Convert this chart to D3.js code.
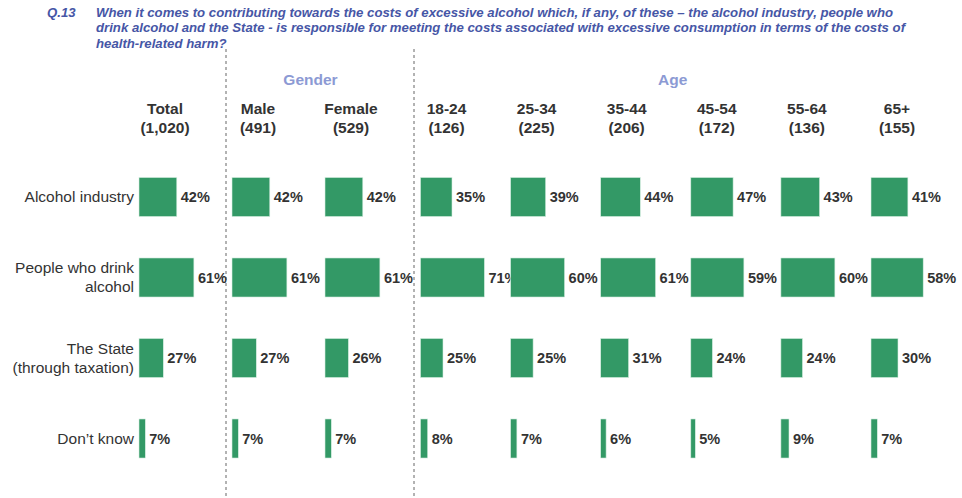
<!DOCTYPE html>
<html>
<head>
<meta charset="utf-8">
<script src="https://cdn.jsdelivr.net/npm/d3@7"></script>
<style>
  body { margin: 0; background: #fff; }
  svg text { font-family: "Liberation Sans", Arial, sans-serif; }
</style>
</head>
<body>
<div id="chart"></div>
<script>
// question text
const titleLines = [
  'When it comes to contributing towards the costs of excessive alcohol which, if any, of these \u2013 the alcohol industry, people who',
  'drink alcohol and the State - is responsible for meeting the costs associated with excessive consumption in terms of the costs of',
  'health-related harm?'
];

// columns
const genderCols = ['Total', 'Male', 'Female'];
const ageCols = ['18-24', '25-34', '35-44', '45-54', '55-64', '65+'];
const columns = genderCols.concat(ageCols);
const bases = ['(1,020)', '(491)', '(529)', '(126)', '(225)', '(206)', '(172)', '(136)', '(155)'];

// rows
const rows = ['Alcohol industry', 'People who drink alcohol', 'The State (through taxation)', 'Don\u2019t know'];
const rowLabels = [['Alcohol industry'], ['People who drink', 'alcohol'], ['The State', '(through taxation)'], ['Don\u2019t know']];

// values (%) per row, in column order
const alcoholIndustry = [42, 42, 42, 35, 39, 44, 47, 43, 41];
const peopleWhoDrink = [61, 61, 61, 71, 60, 61, 59, 60, 58];
const theState = [27, 27, 26, 25, 25, 31, 24, 24, 30];
const dontKnow = [7, 7, 7, 8, 7, 6, 5, 9, 7];
const values = [alcoholIndustry, peopleWhoDrink, theState, dontKnow];

const width = 962, height = 498,
  barColor = '#339966',
  textColor = '#333333',
  titleColor = '#4656a6',
  groupColor = '#8c9ad4';

const svg = d3.select('#chart').append('svg')
  .attr('width', width)
  .attr('height', height);

// scales
const xGender = d3.scalePoint().domain(genderCols).range([139, 325]);
const xAge = d3.scalePoint().domain(ageCols).range([420.5, 871]);
const colX = c => genderCols.includes(c) ? xGender(c) : xAge(c);
const len = d3.scaleLinear().domain([0, 100]).range([0, 90]);
const y = d3.scaleBand().domain(rows).range([156.75, 478.75])
  .paddingInner(0.515).paddingOuter(0.2575);

// title
const title = svg.append('g').attr('class', 'title')
  .style('font-size', '13.2px').style('font-weight', 'bold')
  .style('font-style', 'italic').attr('fill', titleColor);
title.append('text').attr('x', 47).attr('y', 17).text('Q.13');
title.selectAll('text.line').data(titleLines).enter().append('text')
  .attr('class', 'line')
  .attr('x', 96)
  .attr('y', (d, i) => 17 + i * 15.3)
  .text(d => d);

// dashed separators
[226, 414].forEach(x => {
  svg.append('line')
    .attr('x1', x).attr('x2', x)
    .attr('y1', 49).attr('y2', height)
    .attr('stroke', '#666').attr('stroke-width', 1)
    .attr('stroke-dasharray', '3,3');
});

// group headers
svg.append('text')
  .attr('x', (xGender('Male') + xGender('Female')) / 2 + 32)
  .attr('y', 85)
  .attr('text-anchor', 'middle')
  .attr('fill', groupColor)
  .style('font-size', '15.5px').style('font-weight', 'bold')
  .text('Gender');
svg.append('text')
  .attr('x', (xAge(ageCols[0]) + xAge(ageCols[ageCols.length - 1])) / 2 + 27)
  .attr('y', 85)
  .attr('text-anchor', 'middle')
  .attr('fill', groupColor)
  .style('font-size', '15.5px').style('font-weight', 'bold')
  .text('Age');

// column headers
const head = svg.append('g').attr('class', 'col-heads')
  .attr('fill', textColor)
  .style('font-size', '15.5px').style('font-weight', 'bold')
  .attr('text-anchor', 'middle');
columns.forEach((c, i) => {
  const t = head.append('text').attr('x', colX(c) + 26);
  t.append('tspan').attr('x', colX(c) + 26).attr('y', 114).text(c);
  t.append('tspan').attr('x', colX(c) + 26).attr('y', 133).text(bases[i]);
});

// row labels
const lab = svg.append('g').attr('class', 'row-labels')
  .attr('fill', textColor)
  .style('font-size', '15.5px')
  .attr('text-anchor', 'end');
rows.forEach((r, i) => {
  const cy = y(r) + y.bandwidth() / 2,
    lines = rowLabels[i],
    lh = 19,
    t = lab.append('text');
  lines.forEach((l, j) => {
    t.append('tspan')
      .attr('x', 134)
      .attr('y', cy + (j - (lines.length - 1) / 2) * lh)
      .attr('dy', '0.35em')
      .text(l);
  });
});

// value labels first, bars on top (neighbouring bars clip long labels)
rows.forEach((r, ri) => {
  const g = svg.append('g').attr('class', 'row row-' + ri);
  g.selectAll('text')
    .data(values[ri])
    .enter()
    .append('text')
      .attr('x', (d, i) => colX(columns[i]) + len(d) + 4)
      .attr('y', y(r) + y.bandwidth() / 2)
      .attr('dy', '0.35em')
      .attr('fill', textColor)
      .style('font-size', '14.5px').style('font-weight', 'bold')
      .text(d => d + '%');
  g.selectAll('rect')
    .data(values[ri])
    .enter()
    .append('rect')
      .attr('x', (d, i) => colX(columns[i]))
      .attr('y', y(r))
      .attr('width', d => len(d))
      .attr('height', y.bandwidth())
      .attr('fill', barColor)
      .attr('stroke', '#d8eee2')
      .attr('stroke-width', 0.6);
});
</script>
</body>
</html>
